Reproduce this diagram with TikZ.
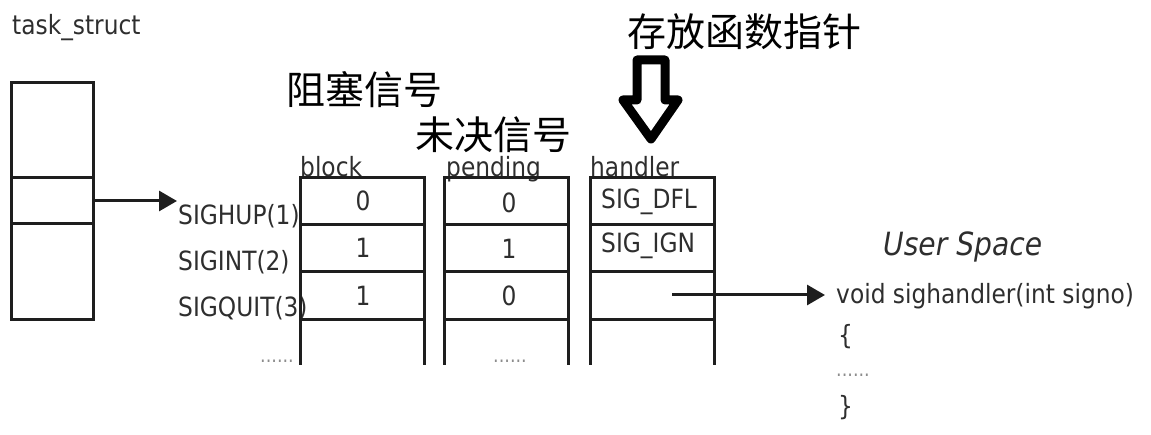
\documentclass[tikz,border=0pt]{standalone}
\usepackage{fontspec}
\setmainfont{DejaVu Sans}[FakeStretch=0.88]
\newfontfamily\cjk{Noto Sans CJK SC}
\usetikzlibrary{arrows.meta}
\definecolor{txt}{HTML}{2E2E2E}
\definecolor{ln}{HTML}{1E1E1E}
\tikzset{
  lbl/.style={text=txt,font=\fontsize{26.5}{30}\selectfont,inner sep=0pt},
  cjklbl/.style={text=black,font=\cjk\fontsize{39}{44}\selectfont,inner sep=0pt,anchor=west},
  tbl/.style={draw=ln,line width=3pt},
  conn/.style={draw=ln,line width=3pt,-{Triangle[length=18pt,width=20pt]}},
  dots/.style={text=txt!55,font=\fontsize{20}{22}\selectfont,inner sep=0pt}
}
\begin{document}
\begin{tikzpicture}[x=1pt,y=-1pt]
\useasboundingbox (0,0) rectangle (1151,435);
% task_struct
\node[lbl,anchor=west] (ts) at (12,28) {task\_struct};
\draw[tbl] (11,83) rectangle (93,320);
\draw[tbl] (11,178) -- (93,178);
\draw[tbl] (11,224) -- (93,224);
\coordinate (tsout) at (93,201);
% signal names
\node[lbl,anchor=west] (s1) at (178,216) {SIGHUP(1)};
\node[lbl,anchor=west] (s2) at (178,262) {SIGINT(2)};
\node[lbl,anchor=west] (s3) at (178,308) {SIGQUIT(3)};
\coordinate (sin) at (177,201);
\draw[conn] (tsout) -- (sin);
% column headers
\node[lbl,anchor=base west] (hb) at (300,177) {block};
\node[lbl,anchor=base west] (hp) at (446,177) {pending};
\node[lbl,anchor=base west] (hh) at (590,177) {handler};
% columns
\foreach \l/\r in {300/424,444/568,590/714}{
  \draw[tbl] (\l,365) -- (\l,178) -- (\r,178) -- (\r,365);
  \foreach \y in {225,272,320}{\draw[tbl] (\l,\y) -- (\r,\y);}
}
% values
\node[lbl] (b1) at (363,201) {0};
\node[lbl] (b2) at (363,248) {1};
\node[lbl] (b3) at (363,296) {1};
\node[lbl] (p1) at (509,203) {0};
\node[lbl] (p2) at (509,249) {1};
\node[lbl] (p3) at (509,296) {0};
\node[lbl,anchor=west] (h1) at (601,202) {SIG\_DFL};
\node[lbl,anchor=west] (h2) at (601,246) {SIG\_IGN};
\coordinate (h3) at (672,295);
\node[dots] (d1) at (277,361) {......};
\node[dots] (d2) at (510,361) {......};
% chinese labels
\node[cjklbl] (c1) at (286,90) {阻塞信号};
\node[cjklbl] (c2) at (415,135) {未决信号};
\node[cjklbl] (c3) at (627,32) {存放函数指针};
% hollow arrow
\draw[black,line width=9pt,line join=round,fill=white] (637,60) -- (665,60) -- (665,100) -- (678,100) -- (651,139) -- (623,100) -- (637,100) -- cycle;
% user space
\node[text=txt,font=\itshape\fontsize{32}{36}\selectfont,inner sep=0pt,anchor=west] (us) at (883,247) {User Space};
\node[lbl,anchor=west] (vf) at (836,296) {void sighandler(int signo)};
\coordinate (vin) at (825,295);
\node[lbl,anchor=west] (ob) at (838,337) {\{};
\node[dots,anchor=west] (d3) at (836,375) {......};
\node[lbl,anchor=west] (cb) at (838,408) {\}};
\draw[conn] (h3) -- (vin);
\end{tikzpicture}
\end{document}
